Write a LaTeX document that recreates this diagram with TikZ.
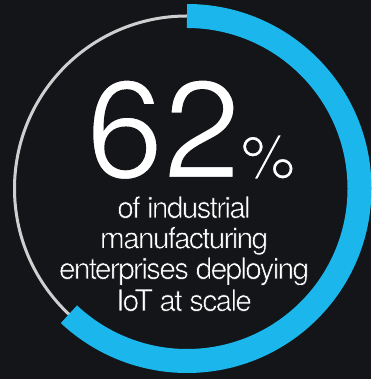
\documentclass[tikz,border=0pt]{standalone}
\usepackage{fontspec}
\setmainfont{TeX Gyre Heros}
\newfontfamily\bodyfont{TeX Gyre Heros}[LetterSpace=-6]
\definecolor{bg}{HTML}{131518}
\definecolor{ringblue}{HTML}{1AB6EC}
\definecolor{ringgray}{HTML}{CFCFCF}
\newcommand\thinned[2]{\special{pdf:literal direct 2 Tr #1 w 0.075 0.082 0.094 RG}#2\special{pdf:literal direct 0 Tr}}
\tikzset{
  linetext/.style={text=white, inner sep=0pt, anchor=base, font=\bodyfont\fontsize{30}{31}\selectfont},
}
\begin{document}
\begin{tikzpicture}[x=1pt,y=1pt]
\fill[bg] (0,0) rectangle (371,379);
\useasboundingbox (0,0) rectangle (371,379);
\coordinate (c) at (187,190.5);
\draw[ringgray, line width=3pt] (c) circle[radius=172.5];
\draw[ringblue, line width=24pt] ([shift={(90:172.5)}]c) arc[start angle=90, end angle=-133.2, radius=172.5];
\node[text=white, inner sep=0pt, anchor=base west, text depth=0pt] (big) at (86,201)
  {\fontsize{139}{139}\selectfont\thinned{2.2}{62}{\fontsize{61}{61}\selectfont\thinned{1.2}{\%}}};
\node[linetext] (l1) at (184,161) {\thinned{0.6}{of industrial}};
\node[linetext] (l2) at (184,130.5) {\thinned{0.6}{manufacturing}};
\node[linetext] (l3) at (184,100) {\thinned{0.6}{enterprises deploying}};
\node[linetext] (l4) at (184,68) {\thinned{0.6}{IoT at scale}};
\end{tikzpicture}
\end{document}
